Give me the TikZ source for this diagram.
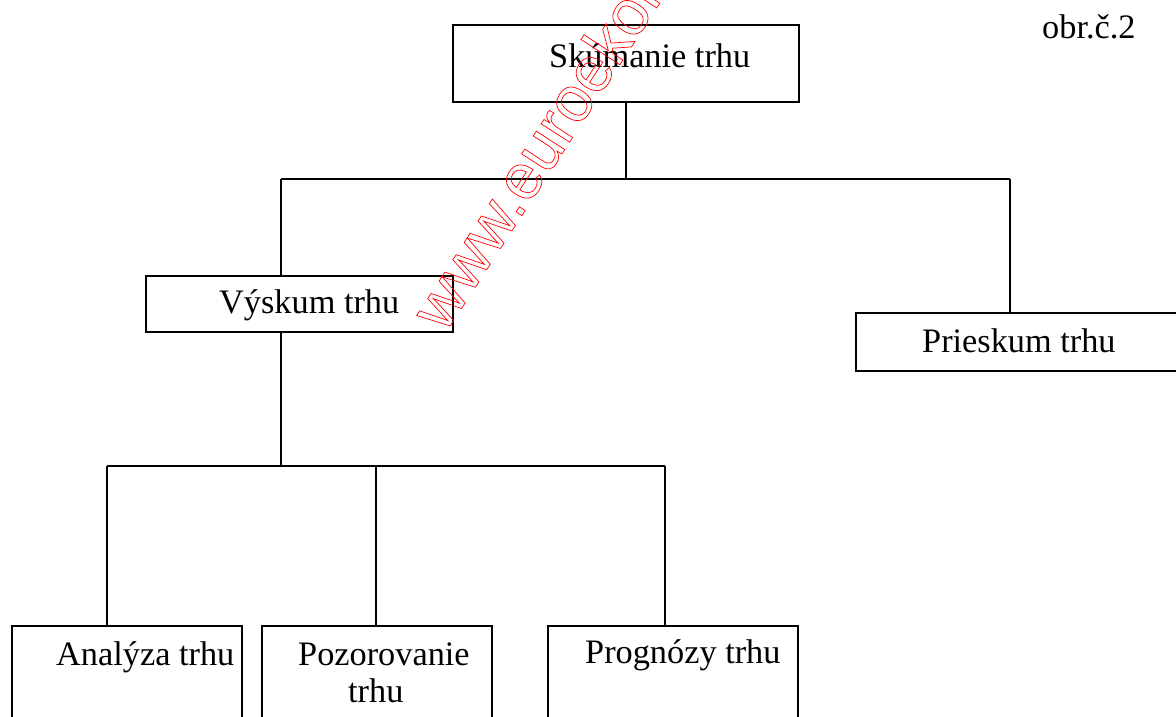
\documentclass[tikz,border=0pt]{standalone}
\usepackage{fontspec}
\setmainfont{Liberation Serif}
\newfontfamily\wmfont{Liberation Sans}
\begin{document}
\begin{tikzpicture}[x=1pt,y=-1pt,
  box/.style={draw,line width=1.6pt,rectangle,inner sep=0pt,outer sep=0pt},
  lbl/.style={anchor=base west,inner sep=0pt,font=\fontsize{34.3}{41}\selectfont},
  conn/.style={line width=1.6pt}]
\useasboundingbox (0,0) rectangle (1176,716);
\clip (0,0) rectangle (1176,716);
\fill[white] (0,0) rectangle (1176,716);
% boxes
\node[box,minimum width=346pt,minimum height=77pt] (sk) at (626,63.5) {};
\node[box,minimum width=307pt,minimum height=56pt] (vy) at (299.5,304) {};
\node[box,minimum width=324pt,minimum height=58pt] (pr) at (1018,342) {};
\node[box,minimum width=230pt,minimum height=114pt] (an) at (127,683) {};
\node[box,minimum width=230pt,minimum height=114pt] (po) at (377,683) {};
\node[box,minimum width=250pt,minimum height=114pt] (pg) at (673,683) {};
% texts
\node[lbl] (tsk) at (549,67) {Skúmanie trhu};
\node[lbl] (tobr) at (1042,38) {obr.č.2};
\node[lbl] (tvy) at (219,313) {Výskum trhu};
\node[lbl] (tpr) at (922,352) {Prieskum trhu};
\node[lbl] (tan) at (56,665) {Analýza trhu};
\node[lbl] (tpo1) at (298,665) {Pozorovanie};
\node[lbl] (tpo2) at (348,702) {trhu};
\node[lbl] (tpg) at (585,663) {Prognózy trhu};
% junctions
\coordinate (h1m) at (626,179);
\coordinate (h1l) at (281,179);
\coordinate (h1r) at (1010,179);
\coordinate (h2t) at (281,466);
\coordinate (h2l) at (107,466);
\coordinate (h2m) at (376,466);
\coordinate (h2r) at (665,466);
% connectors
\draw[conn] (sk.south) -- (h1m);
\draw[conn] (h1l) -- (h1r);
\draw[conn] (h1l) -- (h1l |- vy.north);
\draw[conn] (h1r) -- (h1r |- pr.north);
\draw[conn] (h2t |- vy.south) -- (h2t);
\draw[conn] (h2l) -- (h2r);
\draw[conn] (h2l) -- (h2l |- an.north);
\draw[conn] (h2m) -- (h2m |- po.north);
\draw[conn] (h2r) -- (h2r |- pg.north);
% watermark
\node[anchor=base west,inner sep=0pt,rotate=57,text=red,font=\wmfont\fontsize{64}{66}\selectfont] (wm) at (445,334)
  {\special{pdf:code q 1 Tr 0.7 w}www.euroekonom.sk\special{pdf:code Q}};
\end{tikzpicture}
\end{document}
